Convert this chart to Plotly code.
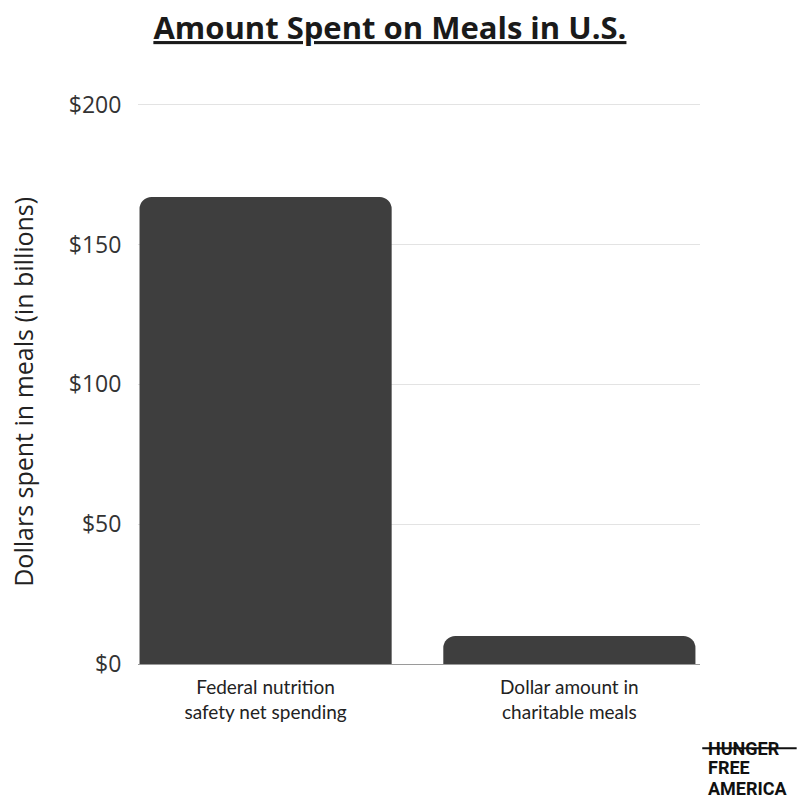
import plotly.graph_objects as go

categories = ["Federal nutrition<br>safety net spending", "Dollar amount in<br>charitable meals"]
values = [167, 10]
tick_vals = [0, 50, 100, 150, 200]
tick_text = ["$0", "$50", "$100", "$150", "$200"]

fig = go.Figure()
fig.add_trace(go.Bar(
    x=categories, y=values,
    marker=dict(color="#3e3e3e", line=dict(width=0)),
    width=0.83,
))

fig.update_layout(
    width=799, height=806,
    margin=dict(l=138, r=99, t=102, b=142),
    paper_bgcolor="white", plot_bgcolor="white",
    barcornerradius=12,
    showlegend=False,
    title=dict(
        text="<b><u>Amount Spent on Meals in U.S.</u></b>",
        x=0.488, xanchor="center", y=0.965, yanchor="middle",
        font=dict(family="Open Sans", size=31, color="#1a1a1a", weight=800),
    ),
    xaxis=dict(
        range=[-0.42, 1.43],
        showgrid=False, zeroline=False, showline=False,
        tickfont=dict(family="Lato", size=19, color="#222"),
        ticks="outside", ticklen=6, tickcolor="rgba(0,0,0,0)",
    ),
    yaxis=dict(
        range=[0, 201],
        tickvals=tick_vals, ticktext=tick_text,
        showgrid=True, gridcolor="#e3e3e3", gridwidth=1,
        zeroline=True, zerolinecolor="#9a9a9a", zerolinewidth=1,
        showline=False,
        ticks="outside", ticklen=11, tickcolor="rgba(0,0,0,0)",
        tickfont=dict(family="Open Sans", size=23, color="#333"),
    ),
    annotations=[
        dict(text="Dollars spent in meals (in billions)", textangle=-90,
             xref="paper", yref="paper", x=-0.204, y=0.485,
             xanchor="center", yanchor="middle", showarrow=False,
             font=dict(family="Open Sans", size=25, color="#222")),
        dict(text="<b>HUNGER</b>", xref="paper", yref="paper", x=1.010, y=-0.150,
             xanchor="left", yanchor="middle", showarrow=False,
             font=dict(family="Roboto", size=18, color="#111")),
        dict(text="<b>FREE</b>", xref="paper", yref="paper", x=1.010, y=-0.185,
             xanchor="left", yanchor="middle", showarrow=False,
             font=dict(family="Roboto", size=18, color="#111")),
        dict(text="<b>AMERICA</b>", xref="paper", yref="paper", x=1.010, y=-0.222,
             xanchor="left", yanchor="middle", showarrow=False,
             font=dict(family="Roboto", size=18, color="#111")),
    ],
    shapes=[
        dict(type="line", xref="paper", yref="paper",
             x0=1.004, x1=1.172, y0=-0.150, y1=-0.150,
             line=dict(color="#111", width=2)),
    ],
)

fig.write_html("out.html")
